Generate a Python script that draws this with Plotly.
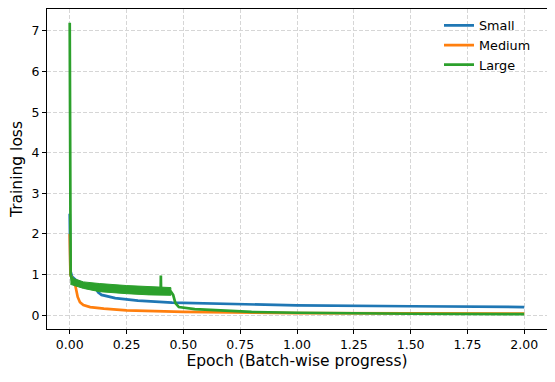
import plotly.graph_objects as go

# =========================
# TRAINING LOSS DATA
# =========================

small_epoch = [0.0, 0.003, 0.01, 0.03, 0.06, 0.10, 0.115, 0.125, 0.14, 0.20, 0.30, 0.45, 0.70, 1.00, 1.50, 2.00]
small_loss = [2.5, 1.10, 0.95, 0.85, 0.78, 0.70, 0.66, 0.56, 0.50, 0.42, 0.36, 0.31, 0.28, 0.24, 0.22, 0.20]

medium_epoch = [0.0, 0.003, 0.015, 0.025, 0.035, 0.045, 0.06, 0.09, 0.15, 0.25, 0.50, 0.75, 1.00, 1.50, 2.00]
medium_loss = [2.0, 1.00, 0.85, 0.72, 0.45, 0.32, 0.25, 0.20, 0.16, 0.12, 0.08, 0.06, 0.05, 0.045, 0.04]

large_epoch = [0.0, 0.002, 0.004, 0.01, 0.03, 0.06, 0.13, 0.25, 0.35, 0.40, 0.401, 0.402,
               0.445, 0.455, 0.465, 0.48, 0.55, 0.67, 0.80, 1.00, 1.25, 1.50, 2.00]
large_loss = [7.2, 1.6, 1.0, 0.86, 0.80, 0.74, 0.68, 0.63, 0.60, 0.59, 0.98, 0.59,
              0.58, 0.50, 0.30, 0.20, 0.15, 0.11, 0.08, 0.06, 0.045, 0.035, 0.025]

# noisy spread of the large model before the drop
band_epoch = [0.003, 0.02, 0.06, 0.13, 0.25, 0.35, 0.445]
band_upper = [0.97, 0.90, 0.82, 0.78, 0.73, 0.70, 0.68]
band_lower = [0.76, 0.72, 0.66, 0.58, 0.53, 0.50, 0.49]

x_ticks = [0, 0.25, 0.5, 0.75, 1.0, 1.25, 1.5, 1.75, 2.0]
y_ticks = [0, 1, 2, 3, 4, 5, 6, 7]

# =========================
# PLOT
# =========================

fig = go.Figure()

fig.add_trace(go.Scatter(x=small_epoch, y=small_loss, mode="lines", name="Small",
                         line=dict(color="#1f77b4", width=2.7)))
fig.add_trace(go.Scatter(x=medium_epoch, y=medium_loss, mode="lines", name="Medium",
                         line=dict(color="#ff7f0e", width=2.7)))
fig.add_trace(go.Scatter(x=band_epoch + band_epoch[::-1], y=band_upper + band_lower[::-1],
                         mode="lines", fill="toself", fillcolor="#2ca02c",
                         line=dict(color="#2ca02c", width=1), showlegend=False, hoverinfo="skip"))
fig.add_trace(go.Scatter(x=large_epoch, y=large_loss, mode="lines", name="Large",
                         line=dict(color="#2ca02c", width=2.7)))

axis_style = dict(
    showline=True, linecolor="black", linewidth=1, mirror=True,
    ticks="outside", ticklen=4, tickcolor="black",
    showgrid=True, gridcolor="#d6d6d6", griddash="4px,2px", gridwidth=0.8,
    zeroline=False, tickfont=dict(size=12.5, color="black"), automargin=False,
)

fig.update_xaxes(range=[-0.1, 2.1], tickvals=x_ticks, tickformat=".2f",
                 title=dict(text="Epoch (Batch-wise progress)", font=dict(size=15.5, color="black"), standoff=4),
                 **axis_style)
fig.update_yaxes(range=[-0.34, 7.54], tickvals=y_ticks,
                 title=dict(text="Training loss", font=dict(size=15.5, color="black"), standoff=6),
                 **axis_style)

# the page body adds an 8px offset, so the figure is a bit smaller
fig.update_layout(
    width=547, height=374,
    margin=dict(l=39, r=8, t=1, b=53),
    paper_bgcolor="white", plot_bgcolor="white",
    font=dict(family="DejaVu Sans", color="black"),
    legend=dict(x=0.978, y=0.995, xanchor="right", yanchor="top",
                bgcolor="rgba(0,0,0,0)", font=dict(size=12.8),
                itemwidth=30, tracegroupgap=0),
    showlegend=True,
)

fig.write_html("out.html")
